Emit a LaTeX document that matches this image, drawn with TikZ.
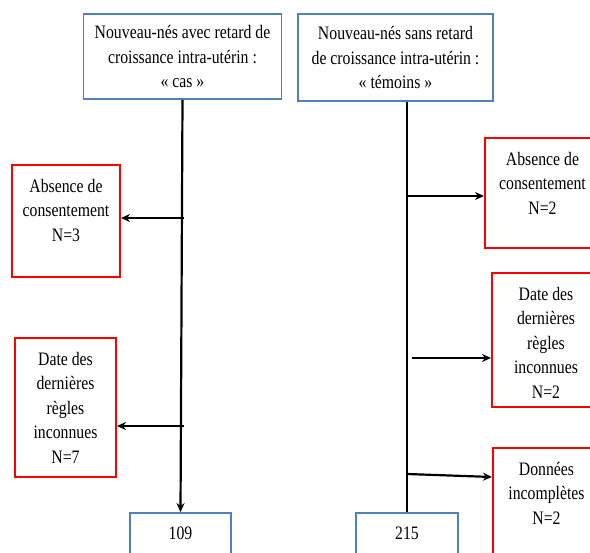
\documentclass[tikz,border=0pt]{standalone}
\usepackage{fontspec}
\setmainfont[FakeStretch=0.83]{Liberation Serif}
\usetikzlibrary{arrows.meta,calc}
\definecolor{boxblue}{HTML}{4F81BD}
\begin{document}
\begin{tikzpicture}[x=1pt,y=-1pt,
  txt/.style={font=\fontsize{19}{24.5}\selectfont, align=center, inner sep=0pt},
  bluebox/.style={draw=boxblue, line width=1.8pt, rectangle, inner sep=0pt},
  redbox/.style={draw=red, line width=2pt, rectangle, inner sep=0pt},
  arr/.style={line width=2.2pt, -{Stealth[length=9pt,width=8pt]}},
  trunk/.style={line width=2.2pt}]
\useasboundingbox (0,0) rectangle (590,553);
\clip (0,0) rectangle (590,553);
% top boxes
\node[bluebox, minimum width=198, minimum height=85] (tl) at (182.5,56.5) {};
\node[txt] (tlt) at (tl.center) {Nouveau-nés avec retard de\\croissance intra-utérin :\\« cas »};
\node[bluebox, minimum width=195, minimum height=87] (tr) at (395.5,57.5) {};
\node[txt] (trt) at (tr.center) {Nouveau-nés sans retard\\de croissance intra-utérin :\\« témoins »};
% bottom boxes
\node[bluebox, minimum width=101, minimum height=60] (bl) at (180.5,543) {};
\node[txt, anchor=north] (blt) at ($(bl.north)+(0,15)$) {109};
\node[bluebox, minimum width=102, minimum height=60] (br) at (407,543) {};
\node[txt, anchor=north] (brt) at ($(br.north)+(0,15)$) {215};
% left red boxes
\node[redbox, minimum width=108, minimum height=112] (l1) at (66,221) {};
\node[txt, anchor=north] (l1t) at ($(l1.north)+(0,15)$) {Absence de\\consentement\\N=3};
\node[redbox, minimum width=101, minimum height=139] (l2) at (65.5,407.5) {};
\node[txt, anchor=north] (l2t) at ($(l2.north)+(0,15)$) {Date des\\dernières\\règles\\inconnues\\N=7};
% right red boxes
\node[redbox, minimum width=115, minimum height=110] (r1) at (542.5,193) {};
\node[txt, anchor=north] (r1t) at ($(r1.north)+(0,15)$) {Absence de\\consentement\\N=2};
\node[redbox, minimum width=108, minimum height=134] (r2) at (546,340) {};
\node[txt, anchor=north] (r2t) at ($(r2.north)+(0,15)$) {Date des\\dernières\\règles\\inconnues\\N=2};
\node[redbox, minimum width=107, minimum height=122] (r3) at (546.5,509) {};
\node[txt, anchor=north] (r3t) at ($(r3.north)+(0,15)$) {Données\\incomplètes\\N=2};
% trunks
\draw[arr] (tl.south) -- (bl.north);
\draw[trunk] (tr.south -| br.north) -- (br.north);
% branch points
\coordinate (a1) at (184,218);
\coordinate (a2) at (184,426);
\coordinate (b1) at (407,196);
\coordinate (b2) at (412,358);
\coordinate (b3) at (407,474);
\draw[arr] (a1) -- (a1 -| l1.east);
\draw[arr] (a2) -- (a2 -| l2.east);
\draw[arr] (b1) -- (b1 -| r1.west);
\draw[arr] (b2) -- (b2 -| r2.west);
\draw[arr] (b3) -- ($(b3 -| r3.west)+(0,3)$);
\end{tikzpicture}
\end{document}
